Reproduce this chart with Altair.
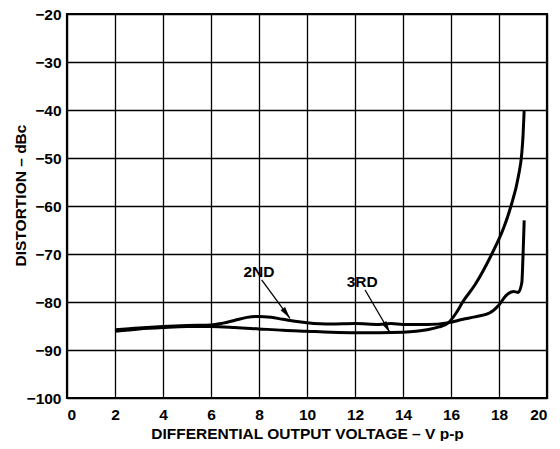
import math
import altair as alt
import pandas as pd

# ---- data ----
x_2nd = [2, 3, 4, 5, 6, 6.5, 7, 7.5, 8, 8.5, 9, 9.5, 10, 11, 12, 13, 13.5, 14, 15,
         15.9, 16.5, 17, 17.6, 18, 18.3, 18.6, 18.8, 18.95, 19.0, 19.05]
d_2nd = [-85.8, -85.4, -85.1, -84.9, -84.8, -84.4, -83.8, -83.2, -83.0, -83.2, -83.6,
         -84.0, -84.3, -84.6, -84.5, -84.7, -84.5, -84.7, -84.7, -84.3, -83.6, -83.1,
         -82.3, -80.6, -78.6, -77.8, -78.0, -76.0, -70.5, -63.0]

x_3rd = [2, 3, 4, 5, 6, 7, 8, 9, 10, 11, 12, 13, 14, 15, 15.5, 15.9, 16.2, 16.5, 17,
         17.7, 18.2, 18.5, 18.8, 18.95, 19.0, 19.05]
d_3rd = [-86.1, -85.6, -85.3, -85.1, -85.1, -85.3, -85.6, -85.9, -86.1, -86.3, -86.4,
         -86.4, -86.3, -85.8, -85.2, -84.3, -82.4, -79.9, -76.4, -70.0, -64.5, -60.0,
         -54.0, -49.0, -45.5, -40.0]

x_ticks = [0, 2, 4, 6, 8, 10, 12, 14, 16, 18, 20]
y_ticks = [-100, -90, -80, -70, -60, -50, -40, -30, -20]

label_text = ["2ND", "3RD"]
label_x = [8.0, 12.3]
label_y = [-73.7, -75.9]
arrow_x0 = [8.11, 12.42]
arrow_y0 = [-75.4, -77.5]
arrow_x1 = [9.29, 13.46]
arrow_y1 = [-83.4, -86.4]

W, H = 480, 384
XMIN, XMAX = 0, 20
YMIN, YMAX = -100, -20
FONT = "Liberation Sans"

curves = pd.concat([
    pd.DataFrame({"v": x_2nd, "d": d_2nd, "s": "2ND"}),
    pd.DataFrame({"v": x_3rd, "d": d_3rd, "s": "3RD"}),
])

px_x = W / (XMAX - XMIN)
px_y = H / (YMAX - YMIN)
angles = []
for a, b, c, e in zip(arrow_x0, arrow_y0, arrow_x1, arrow_y1):
    dx = (c - a) * px_x
    dy = (b - e) * px_y  # screen downwards
    ang = math.degrees(math.atan2(dx, -dy)) % 360
    angles.append(ang)

ann = pd.DataFrame({
    "t": label_text, "lx": label_x, "ly": label_y,
    "x0": arrow_x0, "y0": arrow_y0, "x1": arrow_x1, "y1": arrow_y1,
    "ang": angles,
})

xs = alt.Scale(domain=[XMIN, XMAX], nice=False, zero=False)
ys = alt.Scale(domain=[YMIN, YMAX], nice=False, zero=False)

x_axis = alt.Axis(
    values=x_ticks, grid=True, ticks=False, domain=False,
    gridColor="black", gridWidth=1.3, gridOpacity=1,
    labelFont=FONT, labelFontWeight="bold", labelFontSize=15.5, labelColor="black",
    labelPadding=9,
    title="DIFFERENTIAL OUTPUT VOLTAGE – V p-p",
    titleFont=FONT, titleFontWeight="bold", titleFontSize=15.5, titleColor="black",
    titleBaseline="alphabetic", titleY=40.5,
)
y_axis = alt.Axis(
    values=y_ticks, grid=True, ticks=False, domain=False,
    gridColor="black", gridWidth=1.3, gridOpacity=1,
    labelFont=FONT, labelFontWeight="bold", labelFontSize=15.5, labelColor="black",
    labelPadding=6, labelBaseline="middle",
    title="DISTORTION – dBc",
    titleFont=FONT, titleFontWeight="bold", titleFontSize=15.5, titleColor="black",
    titleX=-42, titleY=181, titleBaseline="alphabetic",
)

lines = alt.Chart(curves).mark_line(
    color="black", strokeWidth=3, interpolate="monotone"
).encode(
    x=alt.X("v:Q", scale=xs, axis=x_axis),
    y=alt.Y("d:Q", scale=ys, axis=y_axis),
    detail="s:N",
)

base = alt.Chart(ann)
texts = base.mark_text(
    font=FONT, fontWeight="bold", fontSize=15.5, color="black",
    align="center", baseline="middle"
).encode(x=alt.X("lx:Q", scale=xs), y=alt.Y("ly:Q", scale=ys), text="t:N")

arrows = base.mark_rule(color="black", strokeWidth=1.3).encode(
    x=alt.X("x0:Q", scale=xs), y=alt.Y("y0:Q", scale=ys),
    x2="x1:Q", y2="y1:Q",
)

heads = base.mark_point(
    shape="M0,0L-0.55,2.4L0.55,2.4Z", filled=True, size=100,
    color="black", opacity=1, strokeWidth=0,
).encode(
    x=alt.X("x1:Q", scale=xs), y=alt.Y("y1:Q", scale=ys),
    angle=alt.Angle("ang:Q", scale=None),
)

chart = alt.layer(lines, arrows, heads, texts).properties(
    width=W, height=H,
    autosize=alt.AutoSizeParams(type="none"),
    padding={"left": 59, "top": 6, "right": 5, "bottom": 43},
    background="white",
).configure_view(stroke="black", strokeWidth=2.2)

chart.save("out.html", embed_options={"renderer": "svg", "actions": False})
